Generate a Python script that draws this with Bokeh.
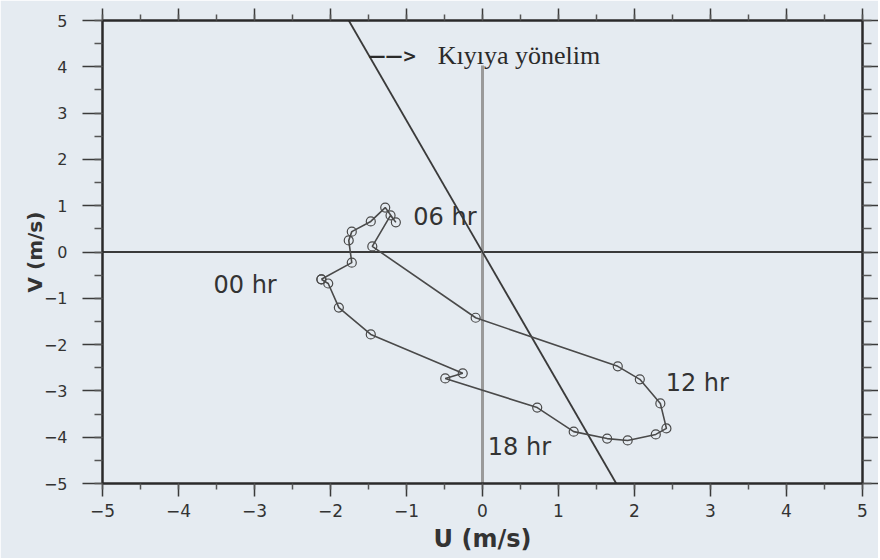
import math
from bokeh.plotting import figure
from bokeh.models import Range1d, LinearAxis, SingleIntervalTicker, Label, ColumnDataSource, CustomJSTickFormatter
from bokeh.core.properties import value
from bokeh.embed import file_html
from bokeh.resources import INLINE

# ---------------- data ----------------
U = [-2.12, -1.72, -1.76, -1.72, -1.47, -1.28, -1.14, -1.21, -1.45, -0.09,
     1.78, 2.07, 2.34, 2.42, 2.28, 1.91, 1.64, 1.20, 0.72, -0.49,
     -0.26, -1.47, -1.89, -2.03, -2.12]
V = [-0.59, -0.23, 0.25, 0.44, 0.66, 0.96, 0.64, 0.79, 0.12, -1.42,
     -2.47, -2.75, -3.27, -3.81, -3.94, -4.07, -4.03, -3.88, -3.36, -2.73,
     -2.62, -1.78, -1.20, -0.68, -0.59]

hour_labels = ["00 hr", "06 hr", "12 hr", "18 hr"]
hour_u = [-3.54, -0.91, 2.41, 0.07]
hour_v = [-0.72, 0.75, -2.82, -4.22]

shore_u = [-1.76, 1.76]
shore_v = [5.0, -5.0]
vert_u = [0.0, 0.0]
vert_v = [-5.0, 4.03]
horiz_u = [-5.0, 5.0]
horiz_v = [0.0, 0.0]

legend_arrow = "——>"
legend_text = "Kıyıya yönelim"
x_title = "U (m/s)"
y_title = "V (m/s)"

BG = "#e5ebf1"
INK = "#333333"

p = figure(width=878, height=558, output_backend="svg", toolbar_location=None,
           x_range=Range1d(-5, 5), y_range=Range1d(-5, 5),
           x_axis_location=None, y_axis_location=None,
           min_border_left=102, min_border_right=16, min_border_top=20, min_border_bottom=75)
p.background_fill_color = BG
p.border_fill_color = BG
p.outline_line_color = None
p.xgrid.visible = False
p.ygrid.visible = False


def make_axis(major_out, minor_out, labels=True, standoff=10, size="17px"):
    ax = LinearAxis(ticker=SingleIntervalTicker(interval=1, num_minor_ticks=2))
    ax.axis_line_color = "#2a2a2a"
    ax.axis_line_width = 2.5
    ax.major_tick_line_color = "#3a3a3a"
    ax.major_tick_line_width = 1.5
    ax.minor_tick_line_color = "#555555"
    ax.minor_tick_line_width = 1.5
    ax.major_tick_out = major_out
    ax.major_tick_in = 0
    ax.minor_tick_out = minor_out
    ax.minor_tick_in = 0
    if labels:
        ax.major_label_text_font = "DejaVu Sans"
        ax.major_label_text_font_size = size
        ax.major_label_text_color = INK
        ax.major_label_standoff = standoff
        ax.axis_label_text_font = "DejaVu Sans"
        ax.axis_label_text_font_style = "bold"
        ax.axis_label_text_color = INK
    else:
        ax.formatter = CustomJSTickFormatter(code="return ''")
        ax.major_label_standoff = 0
    return ax


xb = make_axis(13, 6, True, 7, "17px")
xb.axis_label = x_title
xb.axis_label_text_font_size = "24px"
xb.axis_label_standoff = 5
p.add_layout(xb, "below")

yl = make_axis(20, 8, True, 15, "16px")
yl.axis_label = y_title
yl.axis_label_text_font_size = "20px"
yl.axis_label_standoff = -6
p.add_layout(yl, "left")

p.add_layout(make_axis(12, 6, False), "above")
p.add_layout(make_axis(16, 9, False), "right")

# reference lines
p.line(horiz_u, horiz_v, line_color="#3a3a3a", line_width=1.8)
p.line(vert_u, vert_v, line_color="#9a9a9a", line_width=3)
p.line(shore_u, shore_v, line_color="#3a3a3a", line_width=1.8)

# hodograph
src = ColumnDataSource(dict(u=U, v=V))
p.line("u", "v", source=src, line_color="#4a4a4a", line_width=1.6)
p.scatter("u", "v", source=src, marker="circle", size=9, fill_alpha=0,
          line_color="#4a4a4a", line_width=1.2)

hsrc = ColumnDataSource(dict(u=hour_u, v=hour_v, t=hour_labels))
p.text("u", "v", text="t", source=hsrc, text_font=value("DejaVu Sans"),
       text_font_size="24px", text_color=INK, text_baseline="middle", text_align="left")

# legend-like annotation
p.add_layout(Label(x=-1.5, y=4.24, text=legend_arrow, text_font="DejaVu Sans",
                   text_font_style="bold", text_font_size="17px", text_color="#2a2a2a",
                   text_baseline="alphabetic", text_align="left"))
p.add_layout(Label(x=-0.59, y=4.24, text=legend_text, text_font="Liberation Serif",
                   text_font_size="26px", text_color="#2a2a2a", text_baseline="alphabetic",
                   text_align="left"))

open("out.html", "w").write(file_html(p, INLINE))
